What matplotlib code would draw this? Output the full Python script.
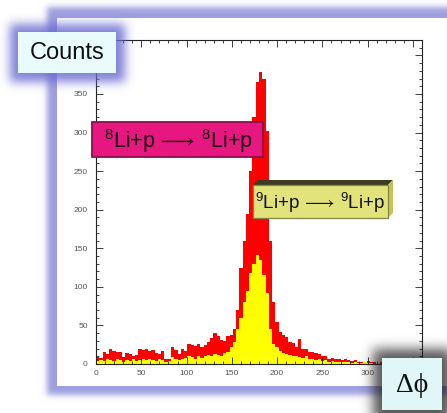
import numpy as np
import matplotlib
matplotlib.use("Agg")
import matplotlib.pyplot as plt
from matplotlib.patches import Rectangle, Polygon

plt.rcParams["mathtext.fontset"] = "custom"
plt.rcParams["mathtext.rm"] = "Liberation Sans"
plt.rcParams["mathtext.it"] = "Liberation Sans:italic"
plt.rcParams["mathtext.bf"] = "Liberation Sans:bold"
plt.rcParams["mathtext.fallback"] = "stixsans"

# Delta-phi histograms, 100 bins of 3.6 degrees over 0..360
edges = np.linspace(0.0, 360.0, 101)

li8_counts = [
    9, 8, 16, 13, 19, 17, 15, 16, 9, 14,
    13, 11, 12, 19, 18, 19, 17, 18, 14, 13,
    17, 6, 6, 22, 18, 13, 20, 17, 26, 25,
    23, 26, 22, 24, 28, 34, 40, 36, 31, 30,
    36, 38, 45, 70, 125, 160, 195, 250, 320, 365,
    378, 370, 302, 160, 80, 55, 42, 38, 35, 29,
    27, 22, 32, 20, 19, 16, 15, 14, 13, 11,
    10, 7, 8, 6, 6, 5, 6, 5, 4, 5,
    3, 3, 2, 4, 2, 3, 1, 2, 1, 0,
    1, 1, 0, 1, 0, 0, 1, 0, 0, 0,
]

li9_counts = [
    4, 5, 4, 6, 5, 4, 6, 5, 3, 5,
    4, 6, 4, 5, 6, 5, 7, 5, 4, 6,
    5, 3, 4, 9, 7, 5, 6, 8, 10, 9,
    7, 11, 8, 10, 12, 10, 13, 12, 11, 14,
    16, 22, 28, 45, 60, 80, 95, 118, 130, 141,
    135, 115, 92, 45, 26, 22, 17, 14, 13, 12,
    10, 11, 9, 8, 10, 7, 6, 5, 6, 4,
    5, 3, 4, 3, 2, 3, 2, 2, 1, 2,
    1, 1, 2, 1, 1, 0, 1, 0, 0, 1,
    0, 0, 1, 0, 0, 0, 0, 0, 0, 0,
]

x_ticks = [0, 50, 100, 150, 200, 250, 300, 350]
x_tick_labels = ["0", "50", "100", "150", "200", "250", "300", ""]
y_ticks = [0, 50, 100, 150, 200, 250, 300, 350, 400]
y_tick_labels = ["0", "50", "100", "150", "200", "250", "300", "350", ""]

x_label = "Δϕ"
y_label = "Counts"
label_li8 = r"$^{8}$Li+p$\,\longrightarrow\,^{8}$Li+p"
label_li9 = r"$^{9}$Li+p$\,\longrightarrow\,^{9}$Li+p"

W, H = 447, 413
PAD = 40


def box_mask(x0, y0, x1, y1):
    m = np.zeros((H + 2 * PAD, W + 2 * PAD))
    xa, xb = max(x0 + PAD, 0), min(x1 + PAD, W + 2 * PAD)
    ya, yb = max(y0 + PAD, 0), min(y1 + PAD, H + 2 * PAD)
    m[ya:yb, xa:xb] = 1.0
    return m


def soften(m, sigma):
    r = int(3 * sigma) + 1
    t = np.arange(-r, r + 1)
    k = np.exp(-t ** 2 / (2.0 * sigma ** 2))
    k /= k.sum()
    m = np.apply_along_axis(lambda v: np.convolve(v, k, mode="same"), 0, m)
    m = np.apply_along_axis(lambda v: np.convolve(v, k, mode="same"), 1, m)
    return m[PAD:PAD + H, PAD:PAD + W]


fig = plt.figure(figsize=(W / 100, H / 100), dpi=100)

# --- background panel with a soft lavender frame
bg = np.ones((H, W, 3))
lav = np.array([0.60, 0.60, 0.87])
a = soften(box_mask(47, 7, W + 60, 395), 3.0) * 0.95
bg = bg * (1 - a[..., None]) + lav * a[..., None]
bg[18:386, 57:] = 1.0

bg_ax = fig.add_axes([0, 0, 1, 1], zorder=0)
bg_ax.imshow(bg, extent=(0, W, H, 0), aspect="auto", interpolation="bilinear")
bg_ax.set_xlim(0, W)
bg_ax.set_ylim(H, 0)
bg_ax.axis("off")

# --- histogram axes
ax = fig.add_axes([96 / W, (H - 364) / H, 326 / W, 324 / H], zorder=2)
ax.set_facecolor("white")
ax.stairs(li8_counts, edges, fill=True, color="#FF0000", lw=0)
ax.stairs(li9_counts, edges, fill=True, color="#FFFF00", lw=0)
ax.set_xlim(0, 360)
ax.set_ylim(0, 420)
ax.set_xticks(x_ticks, x_tick_labels)
ax.set_yticks(y_ticks, y_tick_labels)
ax.set_xticks(np.arange(0, 361, 10), minor=True)
ax.set_yticks(np.arange(0, 421, 10), minor=True)
ax.tick_params(which="both", direction="in", top=True, right=True,
               width=0.6, color="#222222")
ax.tick_params(which="major", length=5)
ax.tick_params(which="minor", length=2.5)
ax.tick_params(axis="x", labelsize=6, labelcolor="#555555", pad=4)
ax.tick_params(axis="y", labelsize=6, labelcolor="#555555", pad=6)
for lab in ax.get_xticklabels() + ax.get_yticklabels():
    lab.set_fontfamily("Liberation Sans")
for sp in ax.spines.values():
    sp.set_linewidth(0.8)
    sp.set_color("#222222")

# --- overlay: glows, shadows and label boxes
ov = np.zeros((H, W, 4))
g1 = soften(box_mask(10, 24, 125, 82), 5.0) * 0.85
c1 = np.array([0.42, 0.42, 0.82])
g2 = soften(box_mask(373, 349, 452, 422), 6.0) * 0.75
c2 = np.array([0.12, 0.12, 0.12])
tot = np.clip(g1 + g2, 0, 1)
ov[..., :3] = (c1 * g1[..., None] + c2 * g2[..., None]) / (g1 + g2 + 1e-9)[..., None]
ov[..., 3] = tot

ov_ax = fig.add_axes([0, 0, 1, 1], zorder=3)
ov_ax.imshow(ov, extent=(0, W, H, 0), aspect="auto", interpolation="bilinear")
ov_ax.set_xlim(0, W)
ov_ax.set_ylim(H, 0)
ov_ax.axis("off")

sans = ["Liberation Sans", "DejaVu Sans"]

# y-axis title box
ov_ax.add_patch(Rectangle((18, 32), 98, 41, fc="#E9FBFB", ec="none", zorder=2))
ov_ax.text(67, 53, y_label, ha="center", va="center", fontsize=17,
           family=sans, color="#111111", zorder=4)

# 8Li+p label box
ov_ax.add_patch(Rectangle((92, 122), 171, 35, fc="#E6177F", ec="#8E0C4C",
                          lw=1.3, zorder=2))
ov_ax.text(178, 141, label_li8, ha="center", va="center", fontsize=15.5,
           family=sans, color="#1A0610", zorder=4)

# 9Li+p label box with extruded edge
ov_ax.add_patch(Polygon([(253, 185), (258, 180), (393, 180), (388, 185)],
                        closed=True, fc="#3C3C22", ec="none", zorder=2))
ov_ax.add_patch(Polygon([(388, 185), (393, 180), (393, 213), (388, 218)],
                        closed=True, fc="#C4C458", ec="none", zorder=2))
ov_ax.add_patch(Rectangle((253, 185), 135, 33, fc="#E3E37B", ec="#85854A",
                          lw=0.9, zorder=2))
ov_ax.text(320, 203, label_li9, ha="center", va="center", fontsize=13.5,
           family=sans, color="#111111", zorder=4)

# x-axis title box
ov_ax.add_patch(Rectangle((382, 358), 60, 52, fc="#E1F6F6", ec="none", zorder=2))
ov_ax.text(412, 386, x_label, ha="center", va="center", fontsize=20,
           family=["Liberation Serif", "DejaVu Serif"], color="#111111", zorder=4)

fig.savefig("out.png", dpi=100)
